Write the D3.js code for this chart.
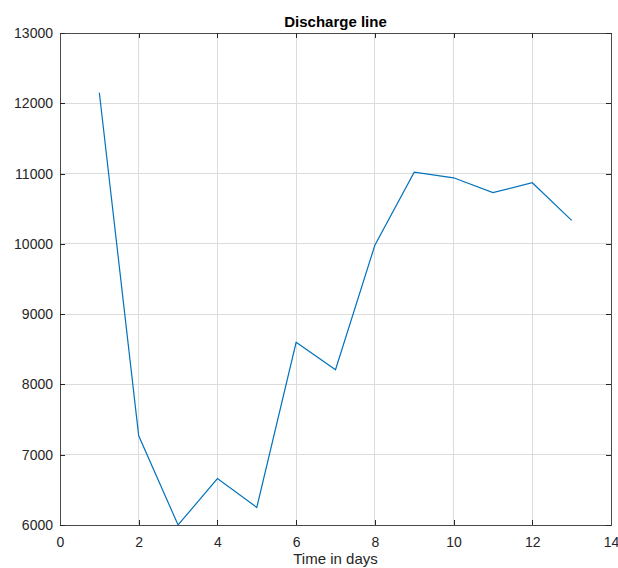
<!DOCTYPE html>
<html>
<head>
<meta charset="utf-8">
<script src="https://cdn.jsdelivr.net/npm/d3@7"></script>
<style>
  html, body { margin: 0; padding: 0; background: #fff; }
  svg { display: block; font-family: "Liberation Sans", Arial, Helvetica, sans-serif; }
</style>
</head>
<body>
<svg id="chart" width="618" height="568"></svg>
<script>
// Daily discharge readings
const days = [1, 2, 3, 4, 5, 6, 7, 8, 9, 10, 11, 12, 13];
const discharge = [12150, 7270, 6000, 6660, 6250, 8600, 8210, 9980, 11020, 10940, 10730, 10870, 10335];
const xTicks = [0, 2, 4, 6, 8, 10, 12, 14];
const yTicks = [6000, 7000, 8000, 9000, 10000, 11000, 12000, 13000];
const titleText = "Discharge line";
const xLabelText = "Time in days";

const svg = d3.select("#chart");
const margin = { left: 60, top: 33, right: 7, bottom: 43 };
const W = 618, H = 568;
const iw = W - margin.left - margin.right;
const ih = H - margin.top - margin.bottom;

const x = d3.scaleLinear().domain([0, 14]).range([0, iw]);
const y = d3.scaleLinear().domain([6000, 13000]).range([ih, 0]);

const g = svg.append("g").attr("transform", `translate(${margin.left},${margin.top})`);

// grid
g.append("g").selectAll("line").data(xTicks).join("line")
  .attr("x1", d => x(d)).attr("x2", d => x(d)).attr("y1", 0).attr("y2", ih)
  .attr("stroke", "#dcdcdc").attr("stroke-width", 1).attr("shape-rendering", "crispEdges");
g.append("g").selectAll("line").data(yTicks).join("line")
  .attr("y1", d => y(d)).attr("y2", d => y(d)).attr("x1", 0).attr("x2", iw)
  .attr("stroke", "#dcdcdc").attr("stroke-width", 1).attr("shape-rendering", "crispEdges");

// data line
g.append("path")
  .datum(days.map((d, i) => [d, discharge[i]]))
  .attr("fill", "none")
  .attr("stroke", "#0072BD")
  .attr("stroke-width", 1.2)
  .attr("d", d3.line().x(d => x(d[0])).y(d => y(d[1])));

const axisColor = "#262626";
const tickLen = 5;

// axes with inward ticks on all four sides
const styleAxis = sel => {
  sel.select(".domain").attr("stroke", "#4a4a4a");
  sel.selectAll(".tick line").attr("stroke", axisColor);
  sel.selectAll("text").attr("fill", axisColor).style("font-size", "14px");
  sel.attr("shape-rendering", "crispEdges");
};

g.append("g").attr("transform", `translate(0,${ih})`)
  .call(d3.axisBottom(x).tickValues(xTicks).tickFormat(d3.format("d")).tickSizeInner(-tickLen).tickSizeOuter(0).tickPadding(12))
  .call(styleAxis)
  .call(s => s.selectAll("text").attr("dy", "0.71em"));

g.append("g")
  .call(d3.axisTop(x).tickValues(xTicks).tickFormat("").tickSizeInner(-tickLen).tickSizeOuter(0))
  .call(styleAxis);

g.append("g")
  .call(d3.axisLeft(y).tickValues(yTicks).tickFormat(d3.format("d")).tickSizeInner(-tickLen).tickSizeOuter(0).tickPadding(7))
  .call(styleAxis);

g.append("g").attr("transform", `translate(${iw},0)`)
  .call(d3.axisRight(y).tickValues(yTicks).tickFormat("").tickSizeInner(-tickLen).tickSizeOuter(0))
  .call(styleAxis);

// title
svg.append("text")
  .attr("x", margin.left + iw / 2).attr("y", 27)
  .attr("text-anchor", "middle")
  .attr("fill", "#000")
  .style("font-size", "15px").style("font-weight", "bold")
  .text(titleText);

// x label
svg.append("text")
  .attr("x", margin.left + iw / 2).attr("y", 564)
  .attr("text-anchor", "middle")
  .attr("fill", axisColor)
  .style("font-size", "15px")
  .text(xLabelText);
</script>
</body>
</html>
